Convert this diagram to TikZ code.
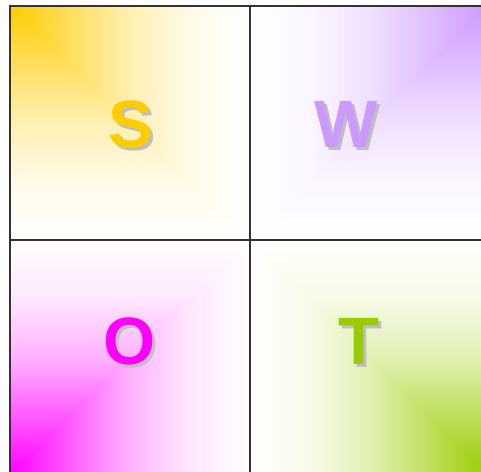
\documentclass[tikz,border=0pt]{standalone}
\usepackage{fontspec}
\setmainfont{Liberation Sans}
\definecolor{swotS}{HTML}{FFCC00}
\definecolor{swotW}{HTML}{CC99FF}
\definecolor{swotO}{HTML}{FF00FF}
\definecolor{swotT}{HTML}{99CC00}
% colour at the left, white at the right
\newcommand\swotfade[1]{%
    \pgfdeclarehorizontalshading{fade#1}{100bp}{color(0bp)=(swot#1);
        color(25bp)=(swot#1); color(37.5bp)=(swot#1!64!white);
        color(50bp)=(swot#1!30!white); color(62.5bp)=(swot#1!9!white);
        color(75bp)=(white); color(100bp)=(white)}}
\swotfade{S}\swotfade{W}\swotfade{O}\swotfade{T}
\begin{document}
\begin{tikzpicture}[
        x=1pt, y=1pt,
        letter/.style={font=\fontsize{67}{67}\selectfont\bfseries, inner sep=0pt},
        grid/.style={draw=black!80, line width=1.2pt}
    ]
    \useasboundingbox (0,0) rectangle (481,471);
    \clip (0,0) rectangle (481,471);
    % the four quadrants, shaded from their outer corner
    \foreach \c/\xa/\ya/\xb/\yb/\ah/\av in
        {S/10/465/250/231/0/-90, W/490/465/250/231/180/-90,
         O/10/-3/250/231/0/90, T/490/-3/250/231/180/90}{
        \shade[shading=fade\c, shading angle=\ah] (\xa,\ya) rectangle (\xb,\yb);
        \begin{scope}
            \clip (\xa,\ya) -- (\xa,\yb) -- (\xb,\yb) -- cycle;
            \shade[shading=fade\c, shading angle=\av] (\xa,\ya) rectangle (\xb,\yb);
        \end{scope}
    }
    % grid
    \draw[grid] (10,-10) -- (10,465) -- (491,465);
    \draw[grid] (250,-10) -- (250,465);
    \draw[grid] (10,231) -- (491,231);
    % letters with their shadows
    \node[letter, text=black!25] (S-sh) at (134,344) {S};
    \node[letter, text=swotS] (S) at (131,347) {S};
    \node[letter, text=black!25] (W-sh) at (349,344) {W};
    \node[letter, text=swotW] (W) at (346,347) {W};
    \node[letter, text=black!25] (O-sh) at (133,127) {O};
    \node[letter, text=swotO] (O) at (130,130) {O};
    \node[letter, text=black!25] (T-sh) at (362,127) {T};
    \node[letter, text=swotT] (T) at (359,130) {T};
\end{tikzpicture}
\end{document}
